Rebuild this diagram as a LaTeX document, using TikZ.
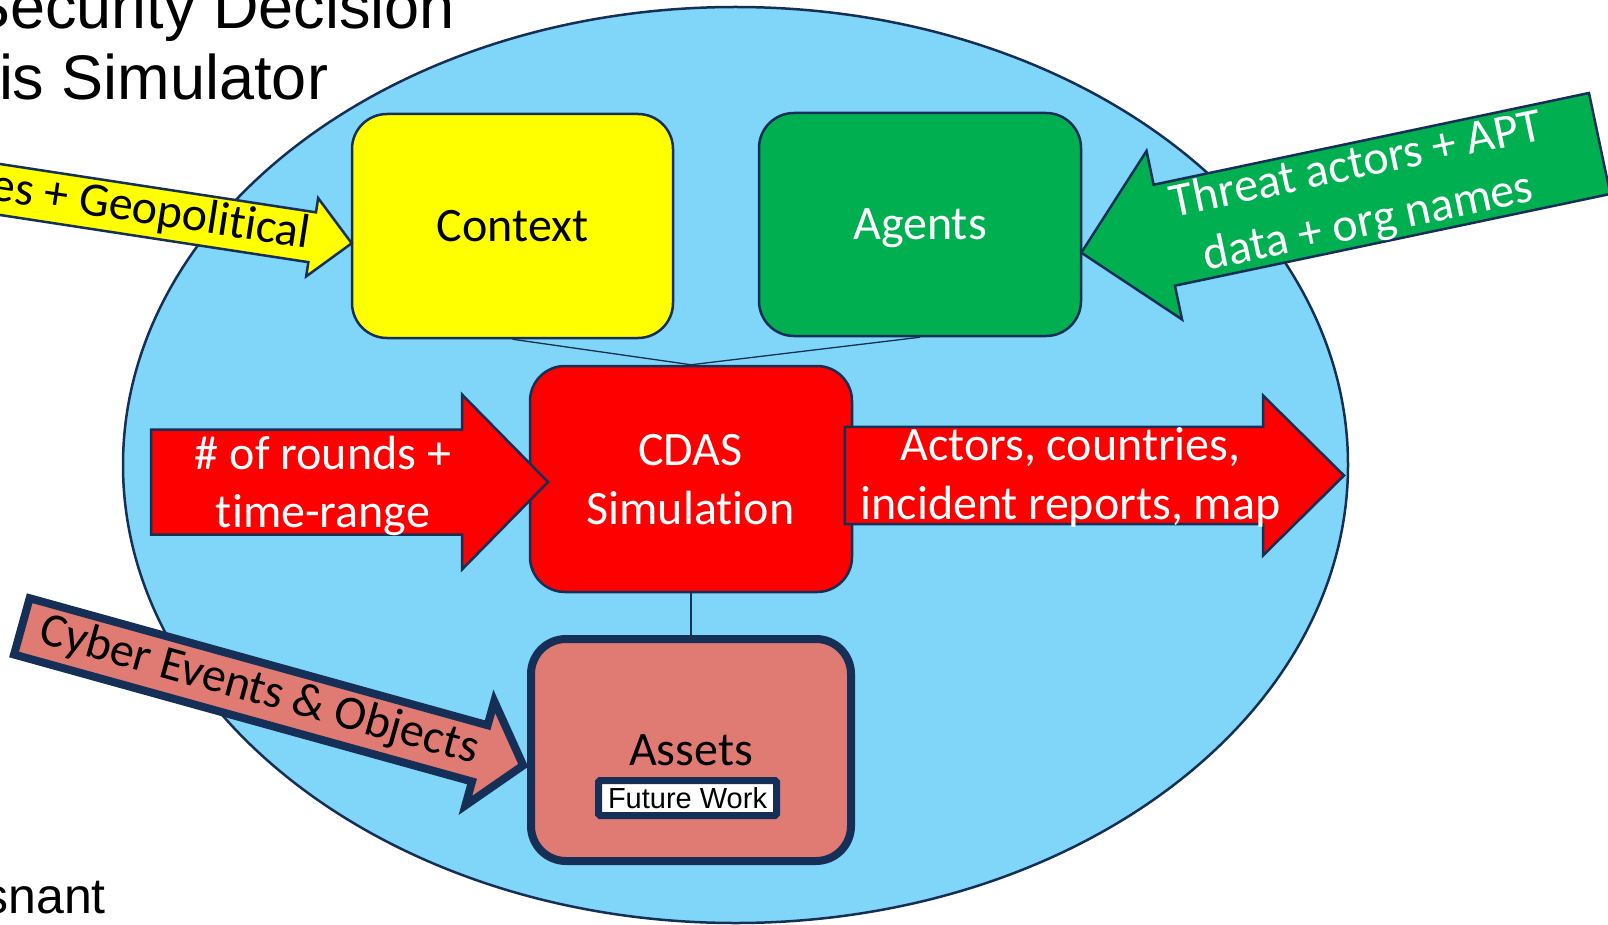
\documentclass[tikz,border=0pt]{standalone}
\usepackage{fontspec}
\setmainfont{Carlito}[Ligatures={NoCommon}]
\newfontfamily\headfont{Liberation Sans}
\definecolor{navy}{RGB}{21,47,86}
\definecolor{sky}{RGB}{128,214,248}
\definecolor{ctxfill}{RGB}{255,255,0}
\definecolor{agentfill}{RGB}{0,176,80}
\definecolor{simfill}{RGB}{255,0,0}
\definecolor{assetfill}{RGB}{224,123,115}

% block arrow with its tip at the origin, pointing along +x
% #1 style, #2 total length, #3 half body width, #4 head length, #5 half head width
\newcommand\blockarrow[5]{%
  \draw[#1] (0,0) -- (-#4,-#5) -- (-#4,-#3) -- (-#2,-#3) -- (-#2,#3)
    -- (-#4,#3) -- (-#4,#5) -- cycle;}

\begin{document}
\begin{tikzpicture}[x=1pt,y=-1pt,
  box/.style={draw=navy, line width=2.5pt, rounded corners=35pt, inner sep=0pt,
    font=\fontsize{48}{58.6}\selectfont, text height=31pt, text depth=0pt},
  conn/.style={draw=navy, line width=1.3pt},
  arrowshape/.style={draw=navy, line width=2.5pt, line join=miter},
  lbl/.style={inner sep=0pt, align=center, font=\fontsize{48}{58.6}\selectfont},
  headline/.style={inner sep=0pt, anchor=base east, font=\headfont\fontsize{63}{72}\selectfont},
  fwbox/.style={draw=navy, fill=white, line width=7pt, rounded corners=1.5pt,
    minimum width=178pt, minimum height=35pt, inner sep=0pt,
    text height=21pt, text depth=0pt, font=\headfont\fontsize{29}{34}\selectfont}]
\useasboundingbox (0,0) rectangle (1608,925);
\clip (0,0) rectangle (1608,925);

% title and footer
\node[headline] (title1) at (455,29) {Security Decision};
\node[headline] (title2) at (328.3,99.5) {is Simulator};
\node[headline, font=\headfont\fontsize{50}{60}\selectfont] (footer) at (106,913) {snant};

% system boundary
\draw[navy, line width=2.5pt, fill=sky] (735.5,465) ellipse [x radius=612.5pt, y radius=458pt];

% component boxes
\node[box, fill=ctxfill, minimum width=321pt, minimum height=224pt] (context) at (512.5,226) {Context};
\node[box, fill=agentfill, text=white, minimum width=322pt, minimum height=223pt] (agents) at (920,224.5) {Agents};
\node[box, fill=simfill, minimum width=322pt, minimum height=226pt] (cdas) at (691,479) {};

% links between components
\draw[conn] (context.south) -- (cdas.north);
\draw[conn] (agents.south) -- (cdas.north);

% cyber events input
\begin{scope}[shift={(523.2,765.4)}, rotate=-15.5]
  \blockarrow{arrowshape, fill=assetfill, line width=8pt}{520.3}{29.2}{45}{54}
  \node[lbl, rotate=-15.5] (cybertext) at (-274.2,0) {\strut Cyber Events \& Objects};
\end{scope}

\node[box, fill=assetfill, line width=8pt, minimum width=320pt, minimum height=222pt] (assets) at (691,750) {Assets};
\draw[conn] (cdas.south) -- (assets.north);
\node[fwbox] (future) at (687.5,798) {Future Work};

% geopolitical input
\begin{scope}[shift={(351.7,243.3)}, rotate=-8.7]
  \blockarrow{arrowshape, fill=ctxfill}{420}{25.2}{40}{39.6}
  \node[lbl, rotate=-8.7] (geotext) at (-203.5,0) {\strut es + Geopolitical};
\end{scope}

% threat actor input
\begin{scope}[shift={(1081.3,252.7)}, rotate=191.9]
  \blockarrow{arrowshape, fill=agentfill}{529.7}{51.6}{84.8}{86.1}
  \node[lbl, text=white, rotate=11.9] (threattext) at (-287,-2)
    {\strut Threat actors + APT\\\strut data + org names};
\end{scope}

% simulation parameters in, results out
\begin{scope}[shift={(548,482)}]
  \blockarrow{arrowshape, fill=simfill}{397}{52.5}{86}{87.5}
\end{scope}
\node[lbl, text=white] (roundstext) at (323,486.8) {\strut \# of rounds +\\\strut time-range};

\begin{scope}[shift={(1344,475.5)}]
  \blockarrow{arrowshape, fill=simfill}{499.2}{48.7}{81}{80}
\end{scope}
\node[lbl, text=white] (outtext) at (1070.5,478.3) {\strut Actors, countries,\\\strut incident reports, map};

\node[lbl, text=white] (cdastext) at (690.5,483.3) {\strut CDAS\\\strut Simulation};
\end{tikzpicture}
\end{document}
